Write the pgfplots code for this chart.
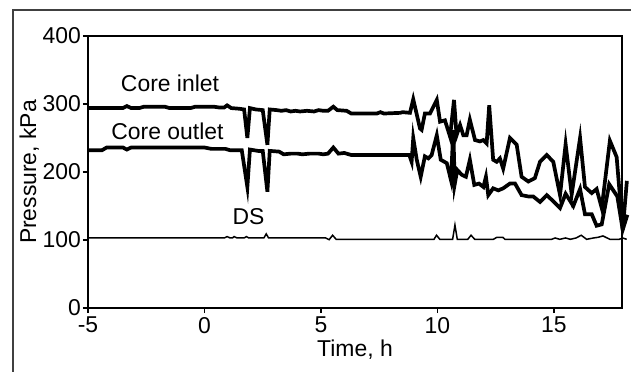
\documentclass[border=0pt]{standalone}
\usepackage{fontspec}
\setmainfont{Liberation Sans}
\usepackage{pgfplots}
\pgfplotsset{compat=1.18}
\begin{document}
\begin{tikzpicture}
\useasboundingbox (0bp,0bp) rectangle (631bp,372bp);
\draw[line width=1.2bp, black!75] (13bp,0bp) -- (13bp,362bp) -- (631bp,362bp);
\begin{axis}[at={(88bp,64bp)}, anchor=south west, scale only axis,
  width=534bp, height=272bp,
  xmin=-5, xmax=17.92, ymin=0, ymax=400,
  xtick={-5,0,5,10,15}, ytick={0,100,200,300,400},
  tick align=outside, xtick pos=bottom, ytick pos=left,
  major tick length=5bp,
  axis line style={line width=1.3bp},
  every tick/.style={line width=1.3bp, black},
  font=\fontsize{23}{27}\selectfont,
  /pgf/number format/assume math mode=true,
  xticklabel style={inner sep=2bp, yshift=-2bp},
  yticklabel style={inner sep=2bp},
  xlabel={Time, h}, ylabel={Pressure, kPa},
  xlabel style={yshift=-1bp},
  ylabel style={yshift=-2bp},
  clip=false,
  line join=miter,
]
% Core inlet
\addplot[black, line width=3.7bp] coordinates {
(-5,294) (-3.5,294) (-3.33,297) (-3.15,294) (-2.8,294) (-2.6,296) (-1.7,296) (-1.5,294)
(-0.6,294) (-0.4,296) (0.4,296) (0.6,295) (0.85,295) (0.97,298) (1.15,294) (1.5,293)
(1.7,292) (1.84,250) (1.95,294) (2.2,292) (2.5,291) (2.7,240) (2.8,292) (3.1,291)
(3.3,290) (3.5,291) (3.7,289) (3.9,290) (4.1,289) (4.4,290) (4.7,289) (4.9,291)
(5.1,290) (5.3,290) (5.53,296) (5.7,291) (6.1,290) (6.3,286) (7.4,286) (7.55,288)
(7.7,286) (8.4,287) (8.5,288) (8.82,287) (8.96,307) (9.25,264) (9.32,262) (9.46,286)
(9.68,286) (9.97,306) (10.11,274) (10.32,276) (10.54,252) (10.71,306) (10.82,254)
(10.97,269) (11.11,254) (11.25,254) (11.39,277) (11.61,247) (11.82,245) (11.97,247)
(12.11,242) (12.22,298) (12.39,218) (12.54,215) (12.68,220) (12.82,205) (13.11,250)
(13.40,240) (13.61,193) (13.90,186) (14.18,191) (14.40,215) (14.69,225) (14.97,215)
(15.26,166) (15.50,241) (15.76,167) (16.12,250) (16.33,178) (16.62,169) (16.83,175)
(17.05,147) (17.40,246) (17.69,222) (17.95,115) (18.13,187)
};
% Core outlet
\addplot[black, line width=3.7bp] coordinates {
(-5,232) (-4.4,232) (-4.2,236) (-3.5,236) (-3.33,233) (-3.15,236) (0,236) (0.3,234)
(0.9,234) (1.1,232) (1.6,232) (1.84,178) (1.95,233) (2.3,231) (2.5,231) (2.7,171)
(2.8,231) (3.2,230) (3.4,226) (3.7,227) (4.0,227) (4.2,226) (4.5,227) (4.9,227)
(5.1,226) (5.3,227) (5.53,236) (5.75,227) (6.0,228) (6.3,225) (8.79,225) (8.89,215)
(8.96,250) (9.11,218) (9.28,193) (9.46,223) (9.61,220) (9.75,225) (9.97,254)
(10.14,218) (10.40,213) (10.58,188) (10.68,262) (10.74,182) (10.85,203) (11.04,196)
(11.22,193) (11.39,218) (11.58,181) (11.78,183) (11.97,178) (12.08,193) (12.18,166)
(12.39,176) (12.61,173) (12.82,176) (13.11,183) (13.33,183) (13.61,166) (13.90,164)
(14.11,164) (14.40,156) (14.69,166) (14.97,157) (15.26,147) (15.50,168) (15.83,150)
(16.12,175) (16.33,138) (16.62,138) (16.83,121) (17.05,123) (17.37,182) (17.72,164)
(17.95,115) (18.15,137)
};
% DS
\addplot[black, line width=1.5bp] coordinates {
(-5,103) (0.85,103) (0.97,105) (1.1,103) (1.2,103) (1.27,105) (1.4,103) (1.7,103)
(1.8,105) (1.9,103) (2.55,103) (2.65,109) (2.75,103) (5.2,103) (5.35,100.5) (5.5,107)
(5.65,101) (9.85,101) (9.96,107) (10.1,101) (10.65,101) (10.75,122) (10.85,101)
(11.3,101) (11.44,107) (11.6,101) (12.4,101) (12.55,104) (12.8,104) (12.9,101)
(14.9,101) (15.05,103) (15.25,101) (15.5,103) (15.7,101) (15.95,103) (16.17,107)
(16.4,101) (16.7,103) (16.9,104) (17.1,106) (17.4,101) (17.8,101) (17.95,103) (18.12,101)
};
\node at (axis cs:-1.48,331) {Core inlet};
\node at (axis cs:-1.59,260) {Core outlet};
\node at (axis cs:1.89,134) {DS};
\end{axis}
\end{tikzpicture}
\end{document}
